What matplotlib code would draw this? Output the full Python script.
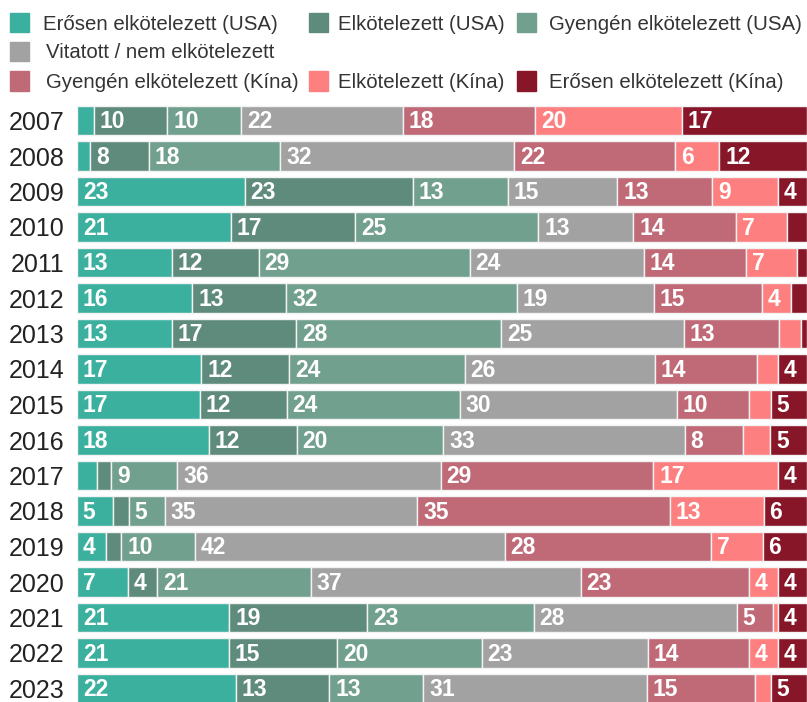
import numpy as np
import matplotlib.pyplot as plt
from matplotlib.patches import Rectangle

plt.rcParams['font.family'] = ['Liberation Sans', 'DejaVu Sans']

# Adatok (%), a nem feliratozott kis szeleteket a kép alapján becsülve
years = [str(y) for y in range(2007, 2024)]
erosen_usa = [2.3, 1.8, 23, 21, 13, 16, 13, 17, 17, 18, 2.7, 5, 4, 7, 21, 21, 22]
elk_usa = [10, 8, 23, 17, 12, 13, 17, 12, 12, 12, 2, 2.2, 2, 4, 19, 15, 13]
gyengen_usa = [10, 18, 13, 25, 29, 32, 28, 24, 24, 20, 9, 5, 10, 21, 23, 20, 13]
vitatott = [22, 32, 15, 13, 24, 19, 25, 26, 30, 33, 36, 35, 42, 37, 28, 23, 31]
gyengen_kina = [18, 22, 13, 14, 14, 15, 13, 14, 10, 8, 29, 35, 28, 23, 5, 14, 15]
elk_kina = [20, 6, 9, 7, 7, 4, 3, 2.8, 3, 3.7, 17, 13, 7, 4, 0.7, 4, 2.2]
erosen_kina = [17, 12, 4, 2.7, 1.4, 2.2, 0.8, 4, 5, 5, 4, 6, 6, 4, 4, 4, 5]

labels = ['Erősen elkötelezett (USA)', 'Elkötelezett (USA)', 'Gyengén elkötelezett (USA)',
          'Vitatott / nem elkötelezett',
          'Gyengén elkötelezett (Kína)', 'Elkötelezett (Kína)', 'Erősen elkötelezett (Kína)']
colors = ['#3cb09e', '#5f8b7d', '#72a08f', '#a2a2a2', '#bf6a76', '#fe7f7f', '#861628']

series = np.array([erosen_usa, elk_usa, gyengen_usa, vitatott,
                   gyengen_kina, elk_kina, erosen_kina], dtype=float)
# soronként 100%-ra skálázva (kerekítés miatt)
widths = series / series.sum(axis=0) * 100

W, H = 807, 702
fig = plt.figure(figsize=(W / 100, H / 100), dpi=100)

row = 35.5
top_px = 120.5 - row / 2
ax = fig.add_axes([77 / W, 0, 730 / W, (H - top_px) / H])

y = np.arange(len(years))
left = np.zeros(len(years))
for k in range(len(labels)):
    ax.barh(y, widths[k], left=left, height=0.82, color=colors[k],
            edgecolor='#f2f2f2', linewidth=1.0)
    for i in range(len(years)):
        v = series[k, i]
        if v >= 4:
            ax.text(left[i] + 0.8, y[i] + 0.03, f'{v:g}', color='white',
                    fontsize=16.5, fontweight='bold', ha='left', va='center')
    left += widths[k]

ax.set_xlim(0, 100)
ax.set_ylim((H - 120.5) / row, -0.5)
ax.set_yticks(y)
ax.set_yticklabels(years, fontsize=18, color='#222222')
ax.tick_params(axis='y', length=0, pad=9)
ax.set_xticks([])
for s in ax.spines.values():
    s.set_visible(False)

# Jelmagyarázat, három sorban
legend_items = [
    (0, 10, 43, 22.5), (1, 309, 338, 22.5), (2, 517, 549, 22.5),
    (3, 10, 46, 51.5),
    (4, 10, 46, 81), (5, 309, 338, 81), (6, 517, 549, 81),
]
for k, px, tx, cy in legend_items:
    fig.patches.append(Rectangle((px / W, 1 - (cy + 9.5) / H), 19 / W, 19 / H,
                                 transform=fig.transFigure, color=colors[k]))
    fig.text(tx / W, 1 - (cy + 1.5) / H, labels[k], fontsize=14.7, color='#333333',
             ha='left', va='center')

fig.savefig('out.png', dpi=100)
